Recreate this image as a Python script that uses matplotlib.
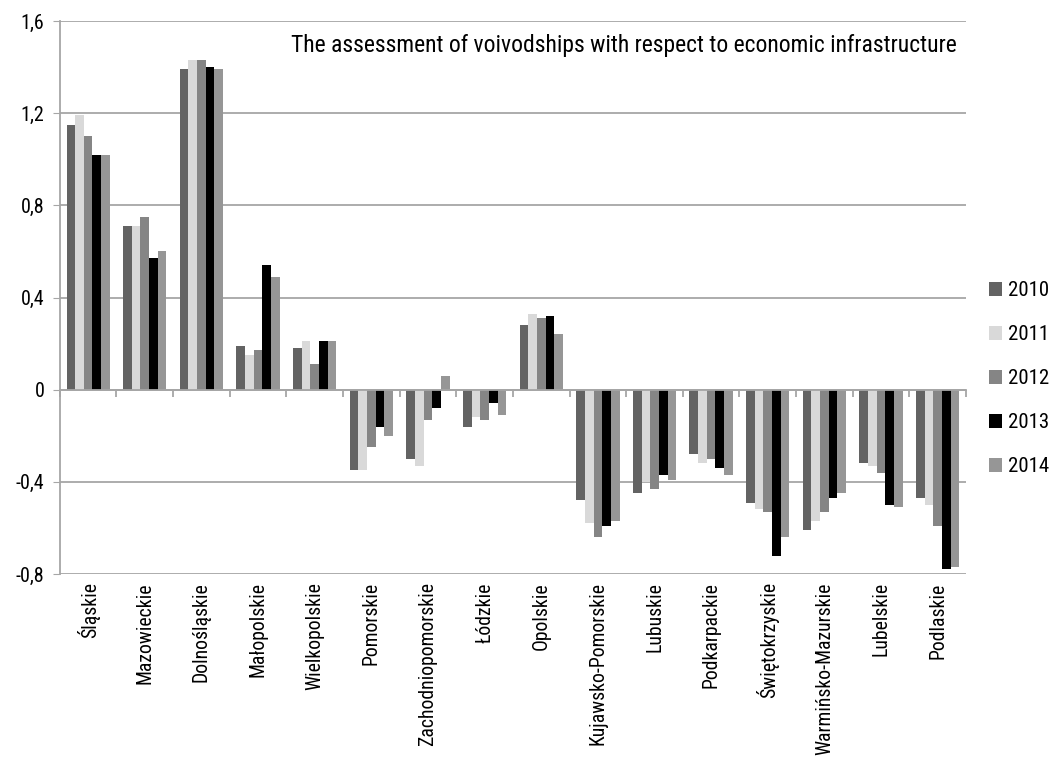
import matplotlib
matplotlib.use('Agg')
import matplotlib.pyplot as plt
import numpy as np
from matplotlib.ticker import FuncFormatter, FixedLocator

plt.rcParams['font.family'] = ['Roboto Condensed', 'Roboto', 'DejaVu Sans']

# data
regions = ['Śląskie', 'Mazowieckie', 'Dolnośląskie', 'Małopolskie', 'Wielkopolskie',
           'Pomorskie', 'Zachodniopomorskie', 'Łódzkie', 'Opolskie', 'Kujawsko-Pomorskie',
           'Lubuskie', 'Podkarpackie', 'Świętokrzyskie', 'Warmińsko-Mazurskie',
           'Lubelskie', 'Podlaskie']
years = ['2010', '2011', '2012', '2013', '2014']

v2010 = [1.15, 0.71, 1.39, 0.19, 0.18, -0.35, -0.30, -0.16, 0.28, -0.48, -0.45, -0.28, -0.49, -0.61, -0.32, -0.47]
v2011 = [1.19, 0.71, 1.43, 0.15, 0.21, -0.35, -0.33, -0.12, 0.33, -0.58, -0.40, -0.32, -0.52, -0.57, -0.33, -0.50]
v2012 = [1.10, 0.75, 1.43, 0.17, 0.11, -0.25, -0.13, -0.13, 0.31, -0.64, -0.43, -0.30, -0.53, -0.53, -0.36, -0.59]
v2013 = [1.02, 0.57, 1.40, 0.54, 0.21, -0.16, -0.08, -0.06, 0.32, -0.59, -0.37, -0.34, -0.72, -0.47, -0.50, -0.78]
v2014 = [1.02, 0.60, 1.39, 0.49, 0.21, -0.20, 0.06, -0.11, 0.24, -0.57, -0.39, -0.37, -0.64, -0.45, -0.51, -0.77]
series = [v2010, v2011, v2012, v2013, v2014]
colors = ['#636363', '#d9d9d9', '#858585', '#000000', '#969696']

fig = plt.figure(figsize=(10.5, 7.65), dpi=100)
ax = fig.add_axes([0.057, 0.2497, 0.863, 0.7228])

x = np.arange(len(regions))
w = 0.153
for i, (vals, c, yr) in enumerate(zip(series, colors, years)):
    ax.bar(x + (i - 2) * w, vals, width=w, color=c, label=yr, zorder=3)

ax.set_xlim(-0.5, len(regions) - 0.5)
ax.set_ylim(-0.8, 1.6)
ax.set_yticks(np.arange(-0.8, 1.61, 0.4))
ax.yaxis.set_major_formatter(FuncFormatter(
    lambda v, p: '0' if abs(v) < 1e-9 else ('%.1f' % v).replace('.', ',')))
ax.grid(axis='y', color='#a6a6a6', linewidth=1.3, zorder=0)
ax.tick_params(axis='y', length=5, color='#a6a6a6', labelsize=14.5, pad=6)

for s in ['top', 'right']:
    ax.spines[s].set_visible(False)
ax.spines['left'].set_color('#a6a6a6')
ax.spines['left'].set_linewidth(1.3)
ax.spines['bottom'].set_position(('data', 0))
ax.spines['bottom'].set_color('#a6a6a6')
ax.spines['bottom'].set_linewidth(1.3)
ax.spines['bottom'].set_zorder(4)

# boundary ticks on the zero line
ax.xaxis.set_major_locator(FixedLocator(np.arange(-0.5, len(regions), 1.0)))
ax.tick_params(axis='x', length=5, color='#a6a6a6', width=1.3, labelbottom=False)

# category labels at the bottom
sec = ax.secondary_xaxis('bottom')
sec.set_xticks(x)
sec.set_xticklabels(regions, rotation=90, fontsize=14.2)
sec.tick_params(length=0, pad=6)
sec.spines['bottom'].set_visible(False)

ax.text(0.99, 0.955, 'The assessment of voivodships with respect to economic infrastructure',
        transform=ax.transAxes, ha='right', va='center', fontsize=17)

fig.legend(loc='center left', bbox_to_anchor=(0.942, 0.505), frameon=False,
           fontsize=15, handlelength=0.62, handleheight=0.62, labelspacing=1.2,
           handletextpad=0.3, borderpad=0, borderaxespad=0)

fig.savefig('out.png', dpi=100)
